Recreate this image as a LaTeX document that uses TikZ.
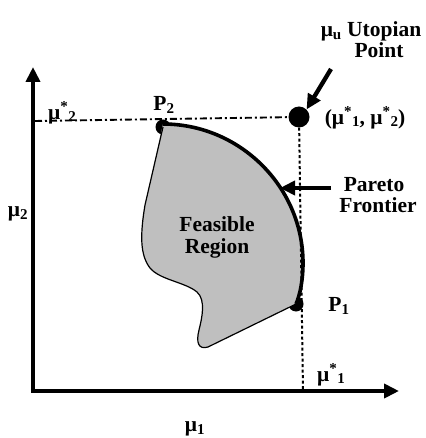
\documentclass[tikz,border=0pt]{standalone}
\usepackage{fontspec}
\setmainfont{Liberation Serif}
\usetikzlibrary{arrows.meta}
\newcommand{\lowidx}[1]{\raisebox{-2.5pt}{\fontsize{15}{15}\selectfont #1}}
\begin{document}
\begin{tikzpicture}[x=1pt,y=-1pt,
  lbl/.style={font=\bfseries\fontsize{21.5}{24}\selectfont, inner sep=0pt},
  axis/.style={line width=4.3pt, -{Triangle[length=15pt,width=14pt]}},
  pointer/.style={line width=4.3pt, -{Triangle[length=15pt,width=14pt]}},
  dot/.style={circle, fill=black, inner sep=0pt, minimum size=#1},
  dashdot/.style={line width=1.9pt, dash pattern=on 7pt off 3pt on 2pt off 3pt},
  dotline/.style={line width=2pt, dash pattern=on 3pt off 2.5pt},
  region/.style={fill=black!25},
  frontier/.style={line width=3.6pt},
  outline/.style={line width=1.2pt},
]
\useasboundingbox (0,0) rectangle (425,438);
% axes
\coordinate (O) at (33,391);
\coordinate (ytip) at (33,67);
\coordinate (xtip) at (399,391);
% points
\node[dot=15pt] (p2) at (163,127) {};
\node[dot=15pt] (p1) at (296,304) {};
\node[dot=21pt] (u) at (299,117) {};
\coordinate (ydash) at (35,121);
\coordinate (xdot) at (303,391);
% region
\fill[region] (163,124) .. controls (240,124) and (303,187) .. (303,263)
  .. controls (303,280) and (300,295) .. (p1.center)
  -- (208,347) .. controls (198,350) and (196,342) .. (199,330)
  .. controls (202,318) and (206,300) .. (197,292)
  .. controls (185,282) and (160,280) .. (150,268)
  .. controls (140,255) and (140,235) .. (145,205) -- cycle;
\draw[outline] (p1.center) -- (208,347) .. controls (198,350) and (196,342) .. (199,330)
  .. controls (202,318) and (206,300) .. (197,292)
  .. controls (185,282) and (160,280) .. (150,268)
  .. controls (140,255) and (140,235) .. (145,205) -- (p2.center);
\draw[frontier] (163,124) .. controls (240,124) and (303,187) .. (303,263)
  .. controls (303,280) and (300,295) .. (p1.center);
% guide lines
\draw[dashdot] (ydash) -- (u);
\draw[dotline] (u) -- (xdot);
% axes
\draw[axis] (O) -- (ytip);
\draw[axis] ([xshift=-2.15pt]O) -- (xtip);
% pointers
\coordinate (ua) at (331,69);
\draw[pointer] (ua) -- (u.north east);
\coordinate (pa) at (331,188);
\coordinate (pb) at (280,188);
\draw[pointer] (pa) -- (pb);
% labels
\node[lbl, align=center] (utxt) at (371,40) {μ\textsubscript{u} Utopian\\[-3pt]\hspace*{16pt}Point};
\node[lbl] (ucoord) at (365,118) {(μ\textsuperscript{*}\lowidx{1}, μ\textsuperscript{*}\lowidx{2})};
\node[lbl] (p2t) at (164,105) {P\textsubscript{2}};
\node[lbl] (p1t) at (339,306) {P\textsubscript{1}};
\node[lbl] (m2s) at (62,113) {μ\textsuperscript{*}\lowidx{2}};
\node[lbl] (m1s) at (331,375) {μ\textsuperscript{*}\lowidx{1}};
\node[lbl] (m2) at (18,214) {μ\textsubscript{2}};
\node[lbl] (m1) at (195,429) {μ\textsubscript{1}};
\node[lbl, align=center] (pf) at (378,195) {\hspace*{-8pt}Pareto\\[-3pt]Frontier};
\node[lbl, align=center] (fr) at (217,237) {Feasible\\[-2pt]Region};
\end{tikzpicture}
\end{document}
